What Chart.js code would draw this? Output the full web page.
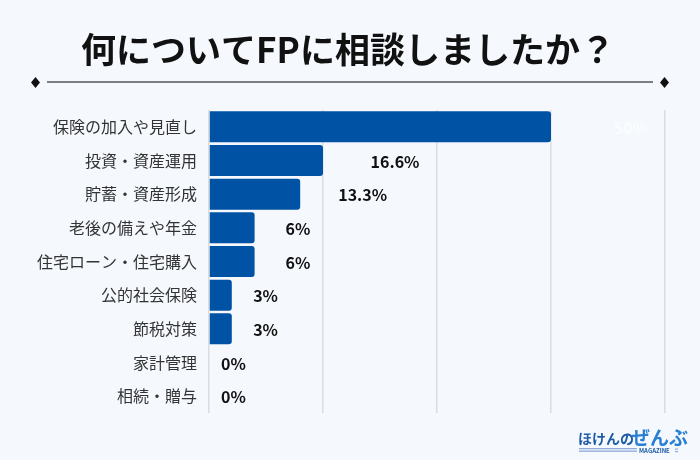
<!DOCTYPE html>
<html>
<head>
<meta charset="utf-8">
<script src="https://cdn.jsdelivr.net/npm/chart.js@4"></script>
<style>
  html, body { margin: 0; padding: 0; background: #F5F9FD; }
  #wrap { width: 700px; height: 460px; position: relative; }
</style>
</head>
<body>
<div id="wrap"><canvas id="c" width="700" height="460"></canvas></div>
<script>
const titleText = '何についてFPに相談しましたか？';
const categories = ['保険の加入や見直し', '投資・資産運用', '貯蓄・資産形成', '老後の備えや年金', '住宅ローン・住宅購入', '公的社会保険', '節税対策', '家計管理', '相続・贈与'];
const counts = [15, 5, 4, 2, 2, 1, 1, 0, 0];
const valueLabels = ['50%', '16.6%', '13.3%', '6%', '6%', '3%', '3%', '0%', '0%'];
const axisMax = 20;
const axisStep = 5;

const FONT = "'Noto Sans CJK JP', 'Noto Sans', sans-serif";
const BAR = '#0052A5';

const decoPlugin = {
  id: 'deco',
  beforeDraw(chart) {
    const ctx = chart.ctx;
    ctx.save();
    ctx.fillStyle = '#F5F9FD';
    ctx.fillRect(0, 0, chart.width, chart.height);
    // title
    ctx.fillStyle = '#111';
    ctx.font = "bold 35px " + FONT;
    ctx.textAlign = 'center';
    ctx.textBaseline = 'middle';
    ctx.fillText(titleText, 348, 50);
    // divider line with diamonds
    ctx.strokeStyle = '#555';
    ctx.lineWidth = 1.5;
    ctx.beginPath();
    ctx.moveTo(47, 82);
    ctx.lineTo(653, 82);
    ctx.stroke();
    ctx.fillStyle = '#111';
    [35.5, 664.5].forEach(cx => {
      ctx.beginPath();
      ctx.moveTo(cx, 77);
      ctx.lineTo(cx + 4.5, 82.5);
      ctx.lineTo(cx, 88);
      ctx.lineTo(cx - 4.5, 82.5);
      ctx.closePath();
      ctx.fill();
    });
    ctx.restore();
  },
  afterDraw(chart) {
    const ctx = chart.ctx;
    ctx.save();
    // logo
    ctx.textBaseline = 'alphabetic';
    ctx.textAlign = 'left';
    ctx.fillStyle = '#1F5BA6';
    ctx.font = "bold 14px " + FONT;
    ctx.fillText('ほけんの', 578, 444);
    ctx.fillStyle = '#2A7FD4';
    ctx.font = "bold 19px " + FONT;
    ctx.fillText('ぜんぶ', 631, 445);
    ctx.fillStyle = '#8FA9DA';
    ctx.fillRect(579, 448, 58, 1.3);
    ctx.fillRect(579, 450.5, 58, 1.3);
    ctx.fillStyle = '#1F5BA6';
    ctx.font = "bold 6px " + FONT;
    ctx.fillText('MAGAZINE', 639, 453);
    ctx.fillStyle = '#8FA9DA';
    ctx.fillRect(675, 448.5, 3, 1.2);
    ctx.fillRect(675, 451, 3, 1.2);
    ctx.restore();
  }
};

const valueLabelPlugin = {
  id: 'valueLabels',
  afterDatasetsDraw(chart) {
    const ctx = chart.ctx;
    const meta = chart.getDatasetMeta(0);
    const area = chart.chartArea;
    ctx.save();
    ctx.font = "bold 16px " + FONT;
    ctx.textAlign = 'center';
    ctx.textBaseline = 'middle';
    meta.data.forEach((bar, i) => {
      const len = bar.x - bar.base;
      let x = bar.x + 24.5 + 0.42 * len;
      let color = '#111';
      if (x > area.right - 20) {
        x = area.right - 34;
        color = 'rgba(255,255,255,0.55)';
      }
      ctx.fillStyle = color;
      ctx.fillText(valueLabels[i], x, bar.y + 1);
    });
    ctx.restore();
  }
};

new Chart(document.getElementById('c'), {
  type: 'bar',
  data: {
    labels: categories,
    datasets: [{
      data: counts,
      backgroundColor: BAR,
      borderRadius: 3,
      borderSkipped: 'start',
      categoryPercentage: 1,
      barPercentage: 0.92
    }]
  },
  options: {
    indexAxis: 'y',
    responsive: false,
    animation: false,
    devicePixelRatio: 1,
    layout: { padding: { left: 0, right: 35, top: 110, bottom: 47 } },
    plugins: {
      legend: { display: false },
      tooltip: { enabled: false },
      title: { display: false }
    },
    scales: {
      x: {
        min: 0,
        max: axisMax,
        ticks: { display: false, stepSize: axisStep },
        grid: { color: '#D9DCE0', lineWidth: 1.5, drawTicks: false },
        border: { display: false }
      },
      y: {
        afterFit(scale) { scale.width = 209; },
        ticks: { color: '#333', font: { family: FONT, size: 16 }, padding: 12 },
        grid: { display: false, drawTicks: false },
        border: { display: false }
      }
    }
  },
  plugins: [decoPlugin, valueLabelPlugin]
});
</script>
</body>
</html>
